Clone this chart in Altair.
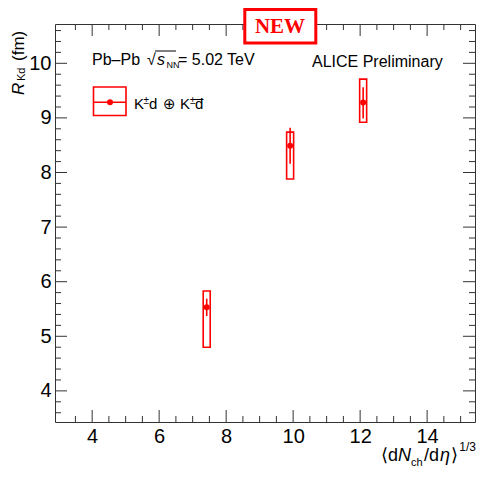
import altair as alt
import pandas as pd

# ---- data ----
mult = [7.42, 9.91, 12.09]          # <dNch/deta>^(1/3)
radius = [5.53, 8.49, 9.28]          # R_Kd (fm)
stat_lo = [5.37, 8.16, 8.99]
stat_hi = [5.69, 8.82, 9.56]
syst_lo = [4.80, 7.88, 8.92]
syst_hi = [5.83, 8.74, 9.71]

x_major = [4, 6, 8, 10, 12, 14]
x_minor = [3.5, 4.5, 5, 5.5, 6.5, 7, 7.5, 8.5, 9, 9.5, 10.5, 11, 11.5,
           12.5, 13, 13.5, 14.5, 15]
y_major = [4, 5, 6, 7, 8, 9, 10]
y_minor = [3.6, 3.8, 4.2, 4.4, 4.6, 4.8, 5.2, 5.4, 5.6, 5.8, 6.2, 6.4, 6.6,
           6.8, 7.2, 7.4, 7.6, 7.8, 8.2, 8.4, 8.6, 8.8, 9.2, 9.4, 9.6, 9.8,
           10.2, 10.4, 10.6]

df = pd.DataFrame({"x": mult, "r": radius, "slo": stat_lo, "shi": stat_hi,
                   "ylo": syst_lo, "yhi": syst_hi})

# plot-area origin on the page (page has 8px margin)
OX, OY = 55, 24
W, H = 420, 398
SVG_W, SVG_H = 469, 460
RED = "#ff0000"
FRAME = "#333333"
FONT = "Liberation Sans"
MAJ, MIN = 12, 6

xs = alt.Scale(domain=[3.04, 15.28], nice=False, zero=False)
ys = alt.Scale(domain=[3.43, 10.72], nice=False, zero=False)

xax = alt.Axis(values=x_major, format="d", labelPadding=4, labelFontSize=20,
               ticks=False, domain=False, grid=False, title=None)
yax = alt.Axis(values=y_major, format="d", labelPadding=4, labelFontSize=20,
               ticks=False, domain=False, grid=False, title=None)

one = pd.DataFrame({"a": [0]})

syst = alt.Chart(df).mark_bar(width=7, fillOpacity=0, stroke=RED, strokeWidth=1.6).encode(
    x=alt.X("x:Q", scale=xs, axis=xax),
    y=alt.Y("ylo:Q", scale=ys, axis=yax),
    y2="yhi:Q",
)
stat = alt.Chart(df).mark_rule(color=RED, strokeWidth=1.6).encode(
    x=alt.X("x:Q", scale=xs, axis=xax), y=alt.Y("slo:Q", scale=ys, axis=yax), y2="shi:Q"
)
pts = alt.Chart(df).mark_point(filled=True, shape="circle", size=36, color=RED, opacity=1).encode(
    x=alt.X("x:Q", scale=xs, axis=xax), y=alt.Y("r:Q", scale=ys, axis=yax)
)


def xticks(vals, L):
    d = pd.DataFrame({"v": vals})
    b = alt.Chart(d).mark_rule(color=FRAME, strokeWidth=1)
    return [
        b.encode(x=alt.X("v:Q", scale=xs, axis=xax), y=alt.value(H), y2=alt.value(H - L)),
        b.encode(x=alt.X("v:Q", scale=xs, axis=xax), y=alt.value(0), y2=alt.value(L)),
    ]


def yticks(vals, L):
    d = pd.DataFrame({"v": vals})
    b = alt.Chart(d).mark_rule(color=FRAME, strokeWidth=1)
    return [
        b.encode(y=alt.Y("v:Q", scale=ys, axis=yax), x=alt.value(0), x2=alt.value(L)),
        b.encode(y=alt.Y("v:Q", scale=ys, axis=yax), x=alt.value(W), x2=alt.value(W - L)),
    ]


# annotation helpers take page coordinates
def txt(s, x, y, size=16, font=FONT, style="normal", weight="normal", color="black",
        align="left", angle=0):
    return alt.Chart(one).mark_text(
        text=s, align=align, baseline="alphabetic", font=font, fontSize=size,
        fontStyle=style, fontWeight=weight, color=color, angle=angle,
    ).encode(x=alt.value(x - OX), y=alt.value(y - OY))


def rule(x1, x2, y1, y2, color="black", w=1):
    return alt.Chart(one).mark_rule(color=color, strokeWidth=w).encode(
        x=alt.value(x1 - OX), x2=alt.value(x2 - OX), y=alt.value(y1 - OY), y2=alt.value(y2 - OY))


def box(x1, x2, y1, y2, stroke, w, fill=None):
    kw = dict(stroke=stroke, strokeWidth=w)
    if fill:
        kw["fill"] = fill
    else:
        kw["fillOpacity"] = 0
    return alt.Chart(one).mark_rect(**kw).encode(
        x=alt.value(x1 - OX), x2=alt.value(x2 - OX), y=alt.value(y1 - OY), y2=alt.value(y2 - OY))


layers = [syst, stat, pts]
layers += xticks(x_major, MAJ) + xticks(x_minor, MIN)
layers += yticks(y_major, MAJ) + yticks(y_minor, MIN)

# header texts
layers += [
    txt("Pb\u2013Pb", 92, 65),
    txt("\u221a", 147, 65),
    rule(155, 176, 51, 51),
    txt("s", 157, 65, style="italic"),
    txt("NN", 166.5, 68, size=9),
    txt("= 5.02 TeV", 178, 65),
    txt("ALICE Preliminary", 312, 66.5),
]

# legend
layers += [
    box(93.5, 126, 87, 115.5, RED, 1.6),
    rule(93.5, 126, 102.2, 102.2, color=RED, w=1.6),
    alt.Chart(one).mark_point(filled=True, shape="circle", size=36, color=RED, opacity=1).encode(
        x=alt.value(110 - OX), y=alt.value(102.2 - OY)),
    txt("K", 134, 108.8, size=15),
    txt("\u00b1", 143.5, 103.5, size=10),
    txt("d", 149, 108.8, size=15),
    txt("\u2295", 163, 108.8, size=15, font="DejaVu Sans"),
    txt("K", 180, 108.8, size=15),
    txt("\u00b1", 190, 103.5, size=10),
    txt("d\u0305", 195, 108.8, size=15),
]

# y title (rotated)
layers += [
    txt("R", 24, 95, size=17, style="italic", angle=270),
    txt("Kd", 25, 81, size=11, angle=270),
    txt("(fm)", 24, 61, size=17, angle=270),
]

# x title
XB = 461
layers += [
    txt("\u27e8", 381, XB, size=18, font="DejaVu Sans"),
    txt("d", 388, XB, size=18),
    txt("N", 398, XB, size=18, style="italic"),
    txt("ch", 411, XB + 4.5, size=11),
    txt("/d", 424, XB, size=18),
    txt("\u03b7", 440, XB, size=18, style="italic"),
    txt("\u27e9", 451, XB, size=18, font="DejaVu Sans"),
    txt("1/3", 476, XB - 10, size=12, align="right"),
]

# NEW badge
layers += [
    box(244.8, 315.8, 9.5, 43, RED, 3, fill="white"),
    txt("NEW", 280, 33, size=21, font="Liberation Serif", weight="bold", color=RED,
        align="center"),
]

chart = alt.layer(*layers).properties(
    width=W, height=H,
    autosize=alt.AutoSizeParams(type="none"),
    padding={"left": OX - 8, "top": OY - 8, "right": SVG_W - (OX - 8) - W,
             "bottom": SVG_H - (OY - 8) - H},
    background="white",
).configure_view(stroke=FRAME, strokeWidth=1).configure_axis(
    labelFont=FONT, labelColor="black",
)

chart.save("out.html", embed_options={"renderer": "svg", "actions": False})
